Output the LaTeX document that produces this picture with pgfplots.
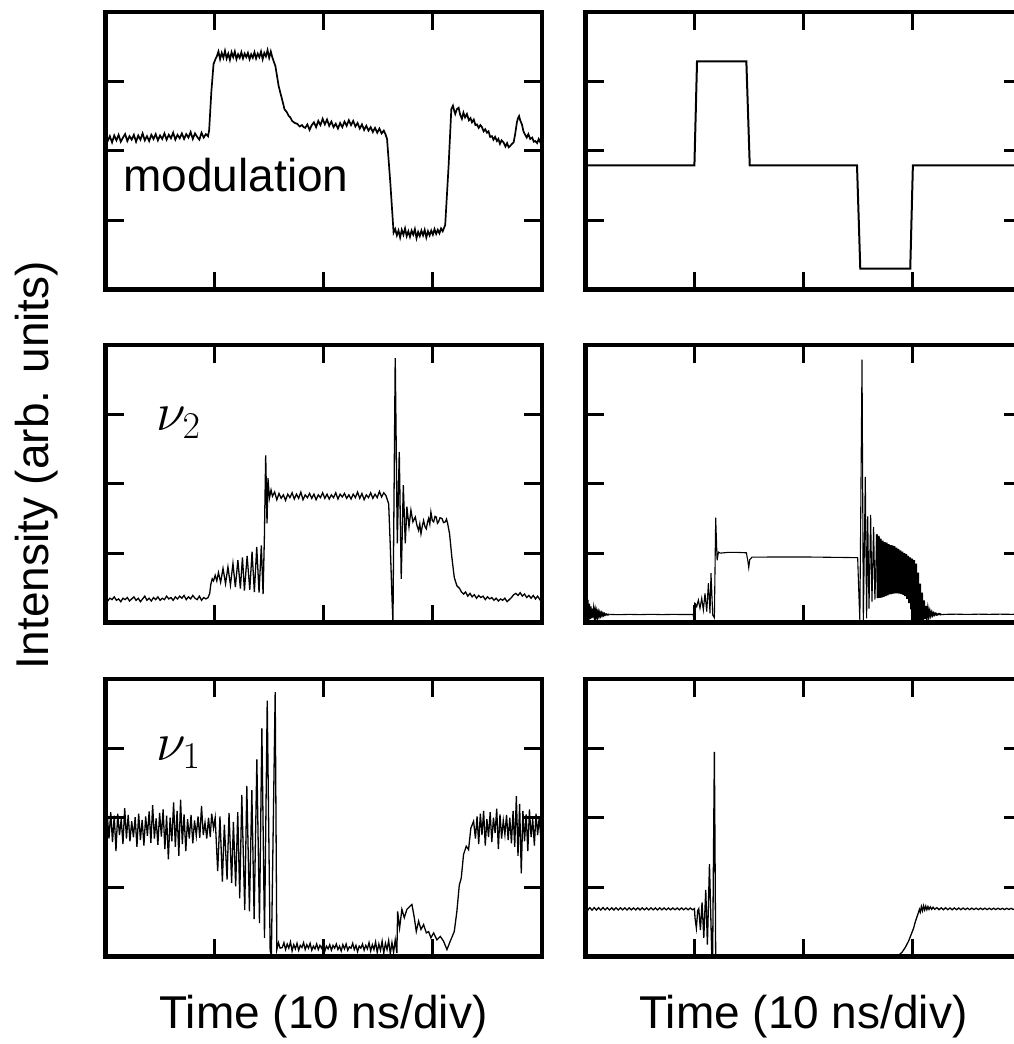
\RequirePackage{fix-cm}
\documentclass[border=0pt]{standalone}
\usepackage[no-math]{fontspec}
\setmainfont{Liberation Sans}
\usepackage{pgfplots}
\pgfplotsset{compat=1.18}
\pgfplotsset{panel/.style={
  scale only axis, width=218.25pt, height=138.75pt, anchor=south west,
  xmin=0, xmax=4, ymin=0, ymax=4,
  xtick={1,2,3}, ytick={1,2,3}, xticklabels={}, yticklabels={},
  xtick pos=both, ytick pos=both,
  tick align=inside, major tick length=9pt,
  tick style={black, line width=1.5pt},
  axis line style={black, line width=2.25pt},
}}
\newcommand{\lbl}{\fontsize{23}{27}\selectfont}
\newcommand{\mlbl}{\fontsize{27}{32}\selectfont}
\begin{document}
\begin{tikzpicture}
% ---------- top left: modulation (measured)
\begin{axis}[panel, at={(52.75pt,-144.75pt)}]
\addplot[black, line width=0.85pt] coordinates {
(0.00,2.22)(0.02,2.14)(0.04,2.21)(0.06,2.12)(0.08,2.22)(0.10,2.15)(0.12,2.23)(0.14,2.13)(0.16,2.19)(0.18,2.24)(0.20,2.14)(0.22,2.21)(0.24,2.16)(0.26,2.23)(0.28,2.13)(0.30,2.22)(0.32,2.16)(0.34,2.25)(0.36,2.15)(0.38,2.21)(0.40,2.14)(0.42,2.23)(0.44,2.17)(0.46,2.24)(0.48,2.15)(0.50,2.22)(0.52,2.17)(0.54,2.25)(0.56,2.16)(0.58,2.23)(0.60,2.18)(0.62,2.26)(0.64,2.16)(0.66,2.23)(0.68,2.18)(0.70,2.25)(0.72,2.17)(0.74,2.24)(0.76,2.19)(0.78,2.27)(0.80,2.17)(0.82,2.25)(0.84,2.20)(0.86,2.16)(0.88,2.26)(0.90,2.19)(0.92,2.24)(0.94,2.21)
(0.95,2.30)(0.97,2.85)(0.99,3.25)(1.01,3.33)
(1.02,3.36)(1.035,3.43)(1.05,3.32)(1.065,3.41)(1.08,3.34)(1.095,3.44)(1.11,3.33)(1.125,3.40)(1.14,3.31)(1.155,3.42)(1.17,3.35)(1.185,3.43)(1.20,3.32)(1.215,3.39)(1.23,3.34)(1.245,3.42)(1.26,3.33)(1.275,3.40)(1.29,3.35)(1.305,3.41)(1.32,3.32)(1.335,3.39)(1.35,3.34)(1.365,3.42)(1.38,3.33)(1.395,3.40)(1.41,3.35)(1.425,3.43)(1.44,3.32)(1.455,3.41)(1.47,3.36)(1.485,3.45)(1.50,3.34)(1.515,3.43)(1.53,3.34)
(1.557,3.22)(1.587,2.93)(1.618,2.74)(1.64,2.60)(1.664,2.55)(1.68,2.50)(1.694,2.48)(1.71,2.43)(1.735,2.40)(1.755,2.39)(1.78,2.35)(1.80,2.37)(1.816,2.34)
(1.83,2.33)(1.85,2.38)(1.87,2.30)(1.89,2.37)(1.91,2.41)(1.93,2.34)(1.95,2.43)(1.97,2.37)(1.99,2.46)(2.01,2.38)(2.03,2.45)(2.05,2.36)(2.07,2.42)(2.09,2.34)(2.11,2.39)(2.13,2.32)(2.15,2.40)(2.17,2.34)(2.19,2.42)(2.21,2.36)(2.23,2.44)(2.25,2.37)(2.27,2.43)(2.29,2.35)(2.31,2.40)(2.33,2.32)(2.35,2.38)(2.37,2.30)(2.39,2.36)(2.41,2.29)(2.43,2.34)(2.45,2.27)(2.47,2.33)(2.49,2.26)(2.51,2.32)(2.53,2.25)(2.55,2.29)(2.565,2.24)
(2.58,2.17)(2.61,1.54)(2.64,0.82)
(2.655,0.87)(2.67,0.78)(2.685,0.85)(2.70,0.75)(2.715,0.86)(2.73,0.79)(2.745,0.88)(2.76,0.77)(2.775,0.84)(2.79,0.76)(2.805,0.85)(2.82,0.79)(2.835,0.87)(2.85,0.74)(2.865,0.83)(2.88,0.77)(2.895,0.85)(2.91,0.78)(2.925,0.86)(2.94,0.75)(2.955,0.84)(2.97,0.78)(2.985,0.85)(3.00,0.79)(3.015,0.87)(3.03,0.80)(3.045,0.86)(3.06,0.81)(3.075,0.88)(3.09,0.84)
(3.113,0.93)(3.144,1.78)(3.169,2.60)(3.184,2.65)(3.195,2.58)(3.205,2.53)(3.22,2.60)(3.236,2.62)(3.25,2.52)(3.266,2.46)(3.28,2.55)(3.295,2.48)(3.312,2.53)(3.33,2.44)(3.345,2.47)(3.358,2.41)(3.375,2.45)(3.39,2.37)(3.404,2.38)(3.42,2.33)(3.435,2.37)(3.45,2.34)(3.465,2.28)(3.48,2.31)(3.496,2.26)(3.51,2.28)(3.525,2.20)(3.541,2.21)(3.555,2.16)(3.57,2.20)(3.587,2.14)(3.60,2.17)(3.615,2.10)(3.63,2.15)(3.648,2.12)(3.665,2.06)(3.68,2.11)(3.695,2.05)(3.709,2.07)(3.725,2.10)(3.74,2.12)(3.755,2.25)(3.77,2.41)(3.78,2.47)(3.79,2.50)(3.80,2.44)(3.816,2.38)(3.83,2.28)(3.846,2.23)(3.86,2.19)(3.875,2.24)(3.892,2.17)(3.91,2.19)(3.925,2.13)(3.938,2.14)(3.955,2.11)(3.97,2.17)(3.985,2.12)(4.0,2.18)
};
\end{axis}
% ---------- top right: modulation (model)
\begin{axis}[panel, at={(292.75pt,-144.75pt)}]
\addplot[black, line width=1pt] coordinates {
(0,1.79)(0.998,1.79)(1.022,3.29)(1.474,3.29)(1.505,1.79)(2.488,1.79)(2.518,0.30)(2.976,0.30)(3.0,1.79)(4,1.79)
};
\end{axis}
% ---------- middle left: nu2 (measured)
\begin{axis}[panel, at={(52.75pt,-311.25pt)}]
\addplot[black, line width=0.65pt] coordinates {
(0.00,0.36)(0.02,0.31)(0.04,0.35)(0.06,0.33)(0.08,0.37)(0.10,0.32)(0.12,0.34)(0.14,0.30)(0.16,0.35)(0.18,0.33)(0.20,0.36)(0.22,0.31)(0.24,0.34)(0.26,0.37)(0.28,0.32)(0.30,0.35)(0.32,0.30)(0.34,0.34)(0.36,0.38)(0.38,0.32)(0.40,0.35)(0.42,0.31)(0.44,0.36)(0.46,0.33)(0.48,0.37)(0.50,0.32)(0.52,0.35)(0.54,0.33)(0.56,0.38)(0.58,0.34)(0.60,0.36)(0.62,0.32)(0.64,0.37)(0.66,0.34)(0.68,0.38)(0.70,0.35)(0.72,0.39)(0.74,0.33)(0.76,0.37)(0.78,0.34)(0.80,0.39)(0.82,0.35)(0.84,0.33)(0.86,0.38)(0.88,0.32)(0.90,0.36)(0.92,0.34)(0.94,0.36)
(0.955,0.42)(0.965,0.55)(0.978,0.63)(0.99,0.60)(1.005,0.68)(1.02,0.60)(1.035,0.72)(1.055,0.58)(1.077,0.78)(1.10,0.56)(1.122,0.80)(1.145,0.54)(1.168,0.85)(1.19,0.51)(1.213,0.90)(1.236,0.49)(1.255,0.94)(1.273,0.46)(1.298,0.96)(1.322,0.47)(1.343,1.02)(1.364,0.44)(1.386,1.09)(1.407,0.43)(1.428,1.11)(1.444,0.41)(1.456,1.23)(1.468,2.41)(1.48,1.43)(1.489,2.08)(1.502,1.79)(1.517,1.91)
(1.53,1.82)(1.55,1.88)(1.57,1.77)(1.59,1.86)(1.61,1.79)(1.63,1.84)(1.65,1.76)(1.67,1.85)(1.69,1.80)(1.71,1.87)(1.73,1.78)(1.75,1.85)(1.77,1.79)(1.79,1.88)(1.81,1.77)(1.83,1.84)(1.85,1.80)(1.87,1.86)(1.89,1.79)(1.91,1.85)(1.93,1.77)(1.95,1.84)(1.97,1.80)(1.99,1.87)(2.01,1.79)(2.03,1.85)(2.05,1.78)(2.07,1.84)(2.09,1.80)(2.11,1.87)(2.13,1.78)(2.15,1.85)(2.17,1.81)(2.19,1.86)(2.21,1.79)(2.23,1.84)(2.25,1.78)(2.27,1.85)(2.29,1.80)(2.31,1.88)(2.33,1.79)(2.35,1.86)(2.37,1.77)(2.39,1.84)(2.41,1.80)(2.43,1.87)(2.45,1.79)(2.47,1.85)(2.49,1.80)(2.51,1.89)(2.53,1.81)(2.55,1.87)(2.57,1.83)
(2.595,1.71)(2.61,1.09)(2.625,0.37)(2.634,0.0)(2.655,3.81)(2.674,1.14)(2.692,2.46)(2.71,0.63)(2.729,1.98)(2.747,1.14)(2.762,1.67)(2.781,1.38)(2.799,1.62)(2.817,1.45)(2.839,1.52)(2.854,1.40)(2.869,1.33)(2.88,1.42)(2.891,1.28)(2.903,1.39)(2.915,1.47)(2.928,1.38)(2.94,1.35)(2.95,1.44)(2.961,1.50)(2.972,1.42)(2.982,1.59)(2.995,1.47)(3.007,1.45)(3.02,1.53)(3.031,1.52)(3.042,1.43)(3.052,1.45)(3.065,1.51)(3.083,1.50)(3.098,1.44)(3.113,1.45)(3.125,1.49)(3.135,1.43)(3.153,1.28)(3.174,0.94)(3.196,0.65)(3.22,0.53)(3.245,0.49)(3.262,0.44)(3.281,0.41)
(3.30,0.44)(3.32,0.38)(3.34,0.42)(3.36,0.37)(3.38,0.40)(3.40,0.35)(3.42,0.39)(3.44,0.36)(3.46,0.38)(3.48,0.33)(3.50,0.37)(3.52,0.34)(3.54,0.36)(3.56,0.32)(3.58,0.35)(3.60,0.31)(3.62,0.34)(3.64,0.32)(3.66,0.35)(3.68,0.30)(3.70,0.33)(3.72,0.36)(3.74,0.40)(3.76,0.42)(3.78,0.39)(3.80,0.43)(3.82,0.38)(3.84,0.41)(3.86,0.36)(3.88,0.39)(3.90,0.35)(3.92,0.39)(3.94,0.34)(3.96,0.38)(3.98,0.33)(4.00,0.36)
};
\end{axis}
% ---------- middle right: nu2 (model)
\begin{axis}[panel, at={(292.75pt,-311.25pt)}]
\addplot[black, line width=0.9pt] coordinates {
(0.005,0.40)(0.012,0.02)(0.019,0.33)(0.026,0.03)(0.033,0.27)(0.040,0.05)(0.047,0.23)(0.054,0.06)(0.061,0.20)(0.068,0.07)(0.075,0.18)(0.082,0.08)(0.089,0.165)(0.096,0.085)(0.103,0.155)(0.110,0.09)(0.117,0.145)(0.124,0.095)(0.131,0.14)(0.138,0.10)(0.145,0.135)(0.152,0.102)(0.159,0.13)(0.166,0.105)(0.173,0.125)(0.180,0.108)(0.19,0.12)(0.20,0.112)(0.22,0.117)
};
\addplot[black, line width=0.55pt] coordinates {
(0.22,0.117)(0.30,0.113)(0.40,0.117)(0.50,0.114)(0.60,0.118)(0.70,0.114)(0.80,0.117)(0.90,0.115)(0.988,0.116)
(0.994,0.02)(1.000,0.28)(1.004,0.277)(1.019,0.228)(1.034,0.325)(1.049,0.205)(1.065,0.35)(1.080,0.18)(1.095,0.42)(1.111,0.156)(1.126,0.566)(1.141,0.133)(1.150,0.71)(1.166,0.108)(1.181,0.067)(1.193,1.51)(1.206,0.895)(1.218,1.015)(1.236,1.00)(1.30,1.01)(1.40,1.01)(1.474,1.005)(1.487,0.895)(1.496,0.79)(1.505,0.905)(1.526,0.943)(2.00,0.945)(2.494,0.935)
(2.506,0.37)(2.514,0.03)(2.534,3.79)(2.546,0.02)(2.564,2.10)(2.576,0.06)(2.586,1.53)(2.598,0.20)(2.613,1.55)(2.625,0.30)(2.64,1.38)(2.652,0.33)(2.669,1.27)
};
\addplot[black, line width=1pt] coordinates {
(2.669,1.27)(2.678,0.35)(2.687,1.25)(2.696,0.355)(2.705,1.21)(2.714,0.36)(2.723,1.18)(2.732,0.37)(2.741,1.16)(2.750,0.38)(2.759,1.15)(2.768,0.39)(2.777,1.13)(2.786,0.405)(2.795,1.115)(2.804,0.41)(2.813,1.11)(2.822,0.415)(2.831,1.10)(2.840,0.42)(2.849,1.08)(2.858,0.42)(2.867,1.06)(2.876,0.415)(2.885,1.04)(2.894,0.41)(2.903,1.02)(2.912,0.40)(2.921,1.00)(2.930,0.38)(2.939,0.985)(2.948,0.34)(2.957,0.96)(2.966,0.28)(2.975,0.94)(2.984,0.19)(2.993,0.92)(3.002,0.05)(3.011,0.90)(3.020,0.0)(3.029,0.85)(3.038,0.0)(3.047,0.72)(3.056,0.0)(3.065,0.56)(3.074,0.01)(3.083,0.43)(3.092,0.03)(3.101,0.32)(3.110,0.05)(3.119,0.24)(3.128,0.08)(3.137,0.19)(3.146,0.09)(3.155,0.16)(3.164,0.10)(3.173,0.145)(3.182,0.105)(3.191,0.135)(3.20,0.11)(3.21,0.13)(3.22,0.112)(3.24,0.125)(3.26,0.113)
};
\addplot[black, line width=0.55pt] coordinates {
(3.26,0.113)(3.3,0.118)(3.4,0.12)(3.5,0.117)(3.6,0.12)(3.7,0.118)(3.8,0.12)(3.9,0.118)(4.0,0.12)
};
\end{axis}
% ---------- bottom left: nu1 (measured)
\begin{axis}[panel, at={(52.75pt,-478.25pt)}]
\addplot[black, line width=0.65pt] coordinates {
(0.000,1.85)(0.016,2.05)(0.032,1.70)(0.048,2.08)(0.064,1.65)(0.080,2.03)(0.096,1.52)(0.112,2.06)(0.128,1.75)(0.144,1.98)(0.160,1.62)(0.176,2.14)(0.192,1.70)(0.208,2.04)(0.224,1.66)(0.240,1.95)(0.256,1.72)(0.272,2.01)(0.288,1.58)(0.304,2.06)(0.320,1.68)(0.336,1.97)(0.352,1.60)(0.368,2.02)(0.384,1.74)(0.400,2.09)(0.416,1.64)(0.432,2.18)(0.448,1.70)(0.464,1.99)(0.480,1.61)(0.496,2.07)(0.512,1.73)(0.528,2.12)(0.544,1.55)(0.560,2.03)(0.576,1.40)(0.592,2.00)(0.608,1.66)(0.624,2.22)(0.640,1.58)(0.656,2.10)(0.672,1.45)(0.688,2.26)(0.704,1.62)(0.720,2.05)(0.736,1.52)(0.752,1.98)(0.768,1.70)(0.784,2.04)(0.800,1.63)(0.816,1.96)(0.832,1.74)(0.848,2.02)(0.864,1.71)(0.880,2.17)(0.896,1.75)(0.912,1.93)(0.928,1.70)(0.944,2.00)(0.960,1.72)
(0.973,2.06)(0.99,1.85)(1.005,2.00)(1.028,1.23)(1.049,2.02)(1.071,1.08)(1.089,1.90)(1.114,1.11)(1.132,2.07)(1.156,1.06)(1.172,1.94)(1.193,1.01)(1.212,2.08)(1.230,0.84)(1.249,2.33)(1.276,0.67)(1.295,2.46)(1.319,0.65)(1.341,2.40)(1.362,0.54)(1.387,2.84)(1.411,0.48)(1.433,3.29)(1.457,0.27)(1.482,3.69)(1.509,0.08)(1.520,0.02)(1.555,3.81)(1.570,0.10)(1.585,0.20)(1.60,0.12)
(1.62,0.13)(1.635,0.20)(1.65,0.10)(1.665,0.18)(1.68,0.12)(1.695,0.21)(1.71,0.08)(1.725,0.17)(1.74,0.11)(1.755,0.19)(1.77,0.09)(1.785,0.16)(1.80,0.13)(1.815,0.20)(1.83,0.10)(1.845,0.17)(1.86,0.12)(1.875,0.19)(1.89,0.09)(1.905,0.15)(1.92,0.11)(1.935,0.18)(1.95,0.10)(1.965,0.16)(1.98,0.12)(1.995,0.19)(2.01,0.08)(2.025,0.15)(2.04,0.11)(2.055,0.17)(2.07,0.09)(2.085,0.16)(2.10,0.12)(2.115,0.18)(2.13,0.10)(2.145,0.15)(2.16,0.08)(2.175,0.17)(2.19,0.11)(2.205,0.18)(2.22,0.09)(2.235,0.14)(2.25,0.12)(2.265,0.19)(2.28,0.10)(2.295,0.16)(2.31,0.07)(2.325,0.15)(2.34,0.12)(2.355,0.18)(2.37,0.09)(2.385,0.16)(2.40,0.11)(2.415,0.20)(2.43,0.08)(2.445,0.17)(2.46,0.10)(2.475,0.21)(2.49,0.06)(2.505,0.18)(2.52,0.09)(2.535,0.22)(2.55,0.05)(2.565,0.19)(2.58,0.10)(2.595,0.23)(2.61,0.04)(2.625,0.20)(2.64,0.06)(2.655,0.24)(2.67,0.05)
(2.677,0.65)(2.695,0.41)(2.716,0.68)(2.738,0.56)(2.762,0.68)(2.787,0.72)(2.808,0.75)(2.83,0.56)(2.848,0.36)(2.869,0.51)(2.891,0.39)(2.915,0.46)(2.94,0.34)(2.961,0.36)(2.982,0.27)(3.007,0.34)(3.037,0.24)(3.068,0.29)(3.098,0.22)(3.129,0.10)(3.159,0.22)(3.196,0.36)(3.22,0.65)(3.242,1.03)(3.26,1.13)(3.281,1.47)(3.306,1.59)(3.327,1.54)(3.348,1.85)(3.373,1.95)
(3.39,1.70)(3.405,2.02)(3.42,1.62)(3.435,2.06)(3.45,1.75)(3.465,2.10)(3.48,1.60)(3.495,1.98)(3.51,1.72)(3.525,2.08)(3.54,1.65)(3.555,2.00)(3.57,1.78)(3.585,2.13)(3.60,1.55)(3.615,2.05)(3.63,1.70)(3.645,1.96)(3.66,1.76)(3.675,2.04)(3.69,1.68)(3.705,2.00)(3.72,1.63)(3.735,2.10)(3.75,1.58)(3.765,2.31)(3.78,1.45)(3.795,2.20)(3.81,1.20)(3.825,2.10)(3.84,1.66)(3.855,2.05)(3.87,1.52)(3.885,2.12)(3.90,1.72)(3.915,1.98)(3.93,1.60)(3.945,2.06)(3.96,1.75)(3.975,2.02)(3.99,1.68)(4.00,1.90)
};
\end{axis}
% ---------- bottom right: nu1 (model)
\begin{axis}[panel, at={(292.75pt,-478.25pt)}]
\addplot[black, line width=0.65pt] coordinates {
(0.003,0.60)(0.012,0.64)(0.022,0.67)(0.03,0.69)
(0.04,0.705)(0.06,0.668)(0.08,0.705)(0.10,0.670)(0.12,0.703)(0.14,0.670)(0.16,0.705)(0.18,0.672)(0.20,0.703)(0.22,0.670)(0.24,0.702)(0.26,0.671)(0.28,0.703)(0.30,0.671)(0.32,0.702)(0.34,0.672)(0.36,0.701)(0.38,0.671)(0.40,0.702)(0.42,0.672)(0.44,0.700)(0.46,0.672)(0.48,0.702)(0.50,0.671)(0.52,0.701)(0.54,0.673)(0.56,0.700)(0.58,0.672)(0.60,0.701)(0.62,0.673)(0.64,0.700)(0.66,0.672)(0.68,0.701)(0.70,0.673)(0.72,0.700)(0.74,0.673)(0.76,0.699)(0.78,0.673)(0.80,0.700)(0.82,0.674)(0.84,0.699)(0.86,0.673)(0.88,0.700)(0.90,0.674)(0.92,0.699)(0.94,0.674)(0.96,0.699)(0.98,0.675)(0.998,0.69)
(1.004,0.55)(1.016,0.41)(1.028,0.66)(1.038,0.69)(1.053,0.38)(1.068,0.78)(1.084,0.27)(1.102,0.96)(1.117,0.17)(1.136,1.33)(1.157,0.03)(1.165,0.0)(1.181,2.95)(1.193,0.0)(2.839,0.0)
(2.87,0.02)(2.90,0.06)(2.93,0.13)(2.96,0.22)(2.985,0.32)(3.007,0.41)(3.022,0.50)(3.037,0.57)(3.05,0.63)(3.06,0.68)(3.068,0.64)(3.078,0.72)(3.088,0.66)(3.098,0.73)(3.108,0.67)(3.118,0.725)(3.128,0.675)(3.138,0.72)(3.148,0.68)(3.16,0.715)(3.172,0.68)(3.185,0.71)(3.20,0.68)(3.22,0.705)(3.24,0.675)(3.26,0.703)(3.28,0.674)(3.30,0.702)(3.32,0.675)(3.34,0.700)(3.36,0.674)(3.38,0.700)(3.40,0.675)(3.42,0.699)(3.44,0.675)(3.46,0.699)(3.48,0.676)(3.50,0.698)(3.52,0.675)(3.54,0.698)(3.56,0.676)(3.58,0.697)(3.60,0.676)(3.62,0.697)(3.64,0.677)(3.66,0.697)(3.68,0.676)(3.70,0.696)(3.72,0.677)(3.74,0.696)(3.76,0.677)(3.78,0.696)(3.80,0.678)(3.82,0.695)(3.84,0.677)(3.86,0.695)(3.88,0.678)(3.90,0.695)(3.92,0.678)(3.94,0.694)(3.96,0.678)(3.98,0.694)(4.00,0.680)
};
\end{axis}
% ---------- labels
\node[rotate=90, anchor=base, inner sep=0pt, font=\lbl] at (24pt,-232.5pt) {Intensity (arb. units)};
\node[anchor=base, inner sep=0pt, font=\lbl] at (161.75pt,-514pt) {Time (10 ns/div)};
\node[anchor=base, inner sep=0pt, font=\lbl] at (401.75pt,-514pt) {Time (10 ns/div)};
\node[anchor=base west, inner sep=0pt, font=\lbl] at (61.5pt,-95.5pt) {modulation};
\node[anchor=base west, inner sep=0pt, font=\mlbl] at (78pt,-215pt) {$\nu_2$};
\node[anchor=base west, inner sep=0pt, font=\mlbl] at (78pt,-380pt) {$\nu_1$};
\pgfresetboundingbox
\path[use as bounding box] (0,0) rectangle (506.5pt,-522pt);
\end{tikzpicture}
\end{document}
